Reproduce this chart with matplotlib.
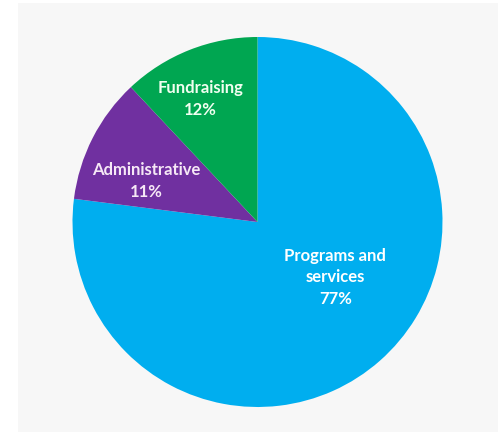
import matplotlib
matplotlib.use("Agg")
import matplotlib.pyplot as plt
from matplotlib.patches import Rectangle

categories = ["Programs and\nservices", "Administrative", "Fundraising"]
values = [77, 11, 12]
colors = ["#00AEEF", "#7030A0", "#00A651"]

W, H = 500, 434
fig = plt.figure(figsize=(W / 100, H / 100), dpi=100)
fig.patch.set_facecolor("white")
fig.add_artist(Rectangle((18 / W, 2 / H), 480 / W, 429 / H, transform=fig.transFigure,
                         facecolor="#F7F7F7", edgecolor="none", zorder=0))

cx, cy, r = 257.5, 222, 185
ax = fig.add_axes([(cx - r) / W, 1 - (cy + r) / H, 2 * r / W, 2 * r / H])
ax.set_facecolor("none")

wedges, _ = ax.pie(values, colors=colors, startangle=90, counterclock=False,
                   radius=1.0, wedgeprops=dict(linewidth=0))
ax.set_xlim(-1, 1)
ax.set_ylim(-1, 1)
ax.set_aspect("equal")
ax.axis("off")

label_pos = [(0.42, -0.30), (-0.60, 0.22), (-0.31, 0.665)]
txt_colors = ["white", "#F6E8F6", "#F0FFF0"]
for cat, v, (lx, ly), tc in zip(categories, values, label_pos, txt_colors):
    ax.text(lx, ly, f"{cat}\n{v}%", ha="center", va="center", color=tc,
            fontsize=12, fontweight="bold", family=["Lato", "DejaVu Sans"],
            linespacing=1.45)

fig.savefig("out.png", dpi=100)
